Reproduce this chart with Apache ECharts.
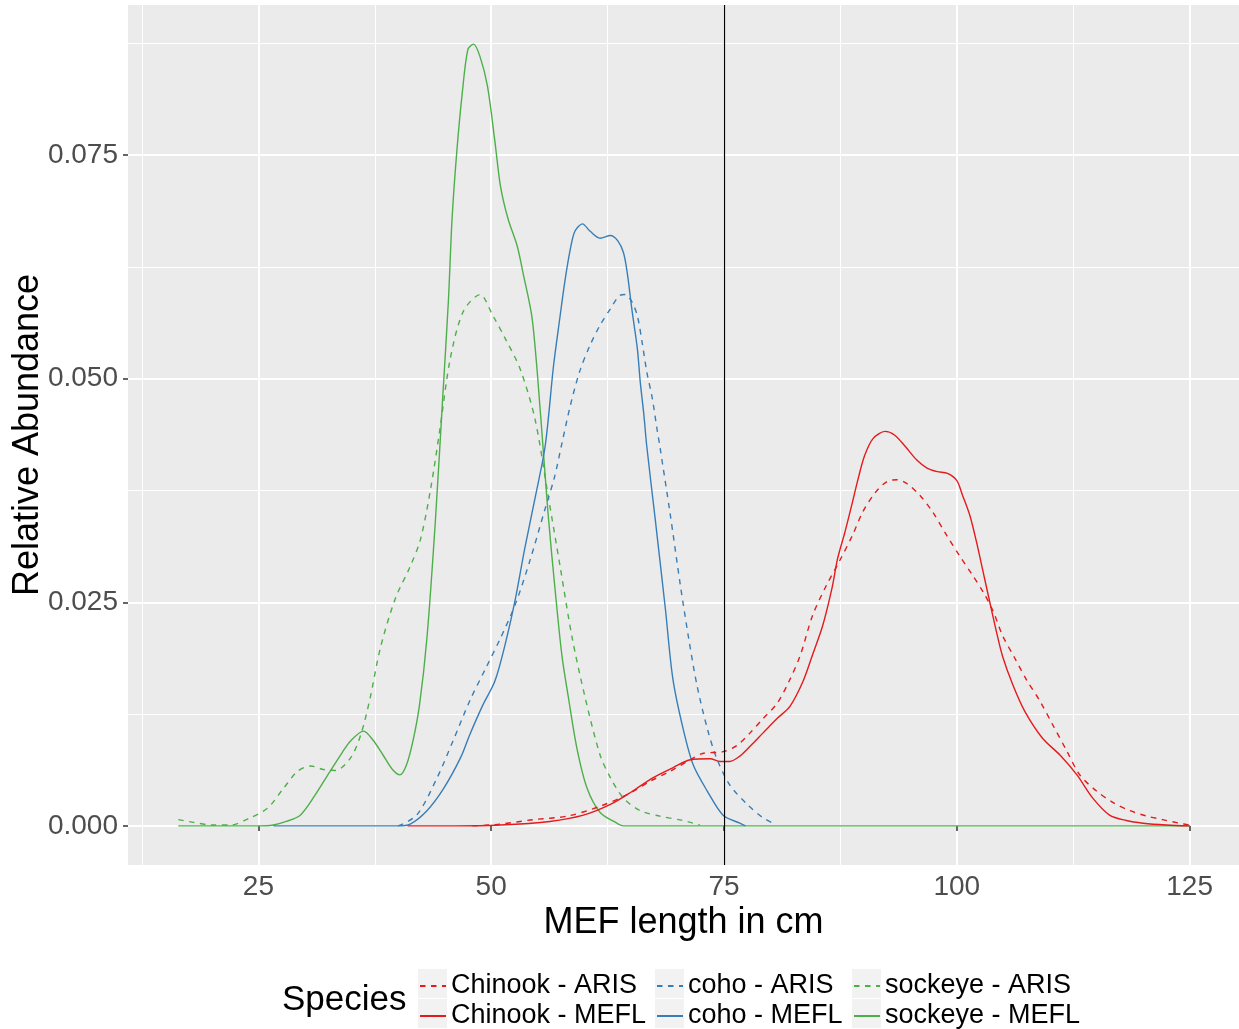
<!DOCTYPE html>
<html>
<head>
<meta charset="utf-8">
<script src="https://cdn.jsdelivr.net/npm/echarts@6/dist/echarts.min.js"></script>
<style>
  html, body { margin: 0; padding: 0; background: #fff; }
  #main { width: 1239px; height: 1029px; }
</style>
</head>
<body>
<div id="main"></div>
<script>
// tick labels
var xTicks = [25, 50, 75, 100, 125];
var xMinor = [12.5, 37.5, 62.5, 87.5, 112.5];
var yTicks = [0, 0.025, 0.05, 0.075];
var yMinor = [0.0125, 0.0375, 0.0625, 0.0875];
var cutLength = 75;

// density curves: [length, relative abundance]
var chinookARIS = [[48,0],[51,0.0002],[54.5,0.0007],[58.2,0.0011],[61.7,0.0022],[64.6,0.0035],[67.1,0.005],[69.2,0.0061],
  [71.4,0.0074],[72.7,0.0081],[74.9,0.0083],[76.4,0.009],[77.8,0.0104],[79.2,0.012],[80.7,0.0137],[82,0.0162],[83.2,0.0191],
  [84.5,0.0235],[86,0.0269],[87.4,0.0296],[88.8,0.0325],[89.9,0.0351],[91.2,0.0372],[92.5,0.0385],[93.6,0.0387],[94.6,0.0383],
  [96,0.037],[97.4,0.0351],[98.9,0.0325],[100.3,0.0302],[101.7,0.028],[102.8,0.0262],[103.9,0.024],[104.9,0.0213],[106.2,0.0188],
  [107.5,0.0163],[108.9,0.014],[110.3,0.0113],[111.8,0.0084],[113.2,0.0057],[115,0.0039],[116.8,0.0026],[118.6,0.0017],
  [120.4,0.0011],[122.1,0.0007],[123.9,0.0003],[125,0.0001]];
var chinookMEFL = [[41,0],[46,0],[51,0.0001],[56.3,0.0005],[59.9,0.0012],[62.8,0.0024],[65.2,0.0039],[67.4,0.0054],[69.5,0.0065],
  [71.4,0.0074],[73.5,0.0075],[74.6,0.0072],[75.6,0.0072],[76.7,0.0078],[77.8,0.0089],[79.2,0.0104],[80.7,0.012],[82.1,0.0134],
  [83.5,0.0162],[84.5,0.0191],[85.6,0.0224],[86.6,0.0266],[87.2,0.0299],[88,0.0329],[88.7,0.0358],[89.4,0.0388],[90.1,0.0414],
  [91,0.0433],[92.3,0.0441],[93.3,0.0437],[94.4,0.0425],[95.7,0.0409],[96.8,0.04],[97.9,0.0396],[99,0.0394],[100,0.0386],
  [100.6,0.037],[101.4,0.0347],[102.1,0.0318],[102.8,0.0285],[103.5,0.0252],[104.3,0.0215],[104.9,0.019],[106,0.0158],
  [107.3,0.0128],[109.2,0.0098],[111.1,0.0079],[112.9,0.0057],[114.6,0.0031],[116.4,0.0012],[118.2,0.0006],[120,0.0003],
  [122.5,0.0001],[125,0]];
var cohoARIS = [[40,0],[42,0.0012],[44.2,0.0054],[45.9,0.0095],[47.7,0.014],[49.4,0.0176],[51,0.021],[52.6,0.0248],[54.2,0.0298],
  [55.8,0.0355],[56.8,0.039],[57.6,0.0428],[58.5,0.047],[59.5,0.0508],[60.6,0.0537],[61.7,0.056],[62.8,0.0578],[63.8,0.0593],[64.4,0.0594],
  [65.1,0.0586],[65.7,0.057],[66.2,0.0541],[66.7,0.0508],[67.3,0.0478],[67.8,0.0444],[68.1,0.0425],[69.2,0.035],[70.3,0.027],
  [71.2,0.021],[72.1,0.0157],[73.2,0.0109],[74.2,0.0076],[75.6,0.0046],[77.5,0.0024],[79.2,0.0009],[80.5,0.0002]];
var cohoMEFL = [[26.6,0],[40,0],[41.3,0.0002],[43.1,0.0017],[44.9,0.0042],[46.7,0.0076],[47.7,0.0102],[49.1,0.0135],[50.4,0.0162],
  [51.5,0.0203],[52.6,0.0254],[53.6,0.031],[54.7,0.0366],[55.8,0.0425],[56.7,0.0515],[57.4,0.057],[57.9,0.0608],[58.5,0.0645],
  [59,0.0665],[59.8,0.0673],[60.6,0.0665],[61.7,0.0657],[62.8,0.066],[63.6,0.0654],[64.2,0.0641],[64.6,0.0619],[65.1,0.0578],
  [65.7,0.0533],[66,0.0497],[66.4,0.0459],[66.7,0.0425],[67.6,0.0344],[68.7,0.0243],[69.5,0.0165],[70.6,0.0109],[71.7,0.0068],
  [73.2,0.0039],[74.9,0.0012],[76.7,0.0003],[77.3,0]];
var sockeyeARIS = [[16.4,0.0007],[18,0.0004],[20,0.0001],[22,0.0001],[24.1,0.0009],[26,0.002],[27.7,0.0042],[29.2,0.0061],
  [30.6,0.0067],[32,0.0063],[33.3,0.0062],[34.9,0.0076],[36,0.0102],[37,0.0143],[38.1,0.0199],[39.7,0.0254],[41.3,0.029],
  [42.4,0.032],[43.5,0.0377],[44.5,0.0444],[45.6,0.0522],[47,0.0575],[48.8,0.0594],[50.2,0.057],[51.5,0.0545],[53.1,0.0511],
  [54.7,0.0455],[56.1,0.037],[57.4,0.029],[58.7,0.021],[60.1,0.0143],[61.7,0.0079],[62.8,0.0054],[64.2,0.0031],[66,0.0017],
  [68.1,0.0011],[70.6,0.0006],[72.4,0.0001]];
var sockeyeMEFL = [[16.4,0],[25,0],[26.6,0.0001],[28,0.0005],[29.5,0.0012],[31,0.0033],[32.7,0.0061],[34,0.0082],[34.9,0.0095],
  [36.3,0.0106],[37.3,0.0096],[38.4,0.0079],[39.4,0.0063],[40.2,0.0057],[40.9,0.0068],[41.6,0.0095],[42.3,0.0135],[43.1,0.021],
  [44,0.034],[44.8,0.048],[45.4,0.0586],[45.8,0.0679],[46.3,0.0753],[46.9,0.082],[47.5,0.0868],[48.1,0.0874],[48.8,0.086],[49.6,0.0827],
  [50.4,0.0765],[51,0.0715],[51.8,0.0679],[52.8,0.0648],[53.4,0.0619],[54.4,0.0567],[55.3,0.046],[56.1,0.035],[56.9,0.026],
  [57.6,0.019],[58.3,0.0143],[59.2,0.0087],[60.3,0.0042],[61.7,0.0015],[63.5,0.0003],[64.2,0],[125,0]];

var RED = '#E41A1C', BLUE = '#377EB8', GREEN = '#4DAF4A';
var FONT = '"Liberation Sans", Arial, sans-serif';

var myChart = echarts.init(document.getElementById('main'));

function curve(name, data, color, dashed) {
  return {
    name: name,
    type: 'line',
    data: data,
    smooth: 0.3,
    symbol: 'none',
    silent: true,
    emphasis: { disabled: true },
    lineStyle: { color: color, width: 1.4, type: dashed ? [5.5, 5.5] : 'solid' },
    itemStyle: { color: color }
  };
}

function legendCol(left, names) {
  return {
    orient: 'vertical',
    left: left + 1,
    top: 971,
    height: 90,
    padding: 0,
    itemWidth: 26,
    itemHeight: 29,
    itemGap: 0,
    selectedMode: false,
    data: names,
    // hide the round marker, keep the (dashed) line
    itemStyle: { color: 'transparent', borderColor: 'transparent', borderWidth: 0, opacity: 0 },
    textStyle: { fontSize: 27, color: '#000', fontFamily: FONT, lineHeight: 30 }
  };
}

// grey key boxes like ggplot legend keys
var keyCols = [418, 655, 852];
var keyBoxes = [];
keyCols.forEach(function (x) {
  [969, 999].forEach(function (y) {
    keyBoxes.push({ type: 'rect', left: x, top: y, z: -1, shape: { width: 29, height: 29 }, style: { fill: '#F2F2F2' } });
  });
});

var lastSeries = curve('Chinook - MEFL', chinookMEFL, RED, false);
lastSeries.markLine = {
  silent: true,
  symbol: 'none',
  label: { show: false },
  lineStyle: { color: '#000', width: 1.2, type: 'solid' },
  data: [{ xAxis: cutLength }]
};

var options = {
  backgroundColor: '#fff',
  animation: false,
  title: {
    text: 'Species',
    left: 282,
    top: 983,
    padding: 0,
    textStyle: { fontSize: 35, fontWeight: 'normal', color: '#000', fontFamily: FONT }
  },
  graphic: keyBoxes,
  legend: [
    legendCol(keyCols[0], ['Chinook - ARIS', 'Chinook - MEFL']),
    legendCol(keyCols[1], ['coho - ARIS', 'coho - MEFL']),
    legendCol(keyCols[2], ['sockeye - ARIS', 'sockeye - MEFL'])
  ],
  grid: {
    left: 128, top: 5, width: 1111, height: 860,
    outerBoundsMode: 'none',
    containLabel: false,
    show: true, backgroundColor: '#EBEBEB', borderWidth: 0
  },
  xAxis: [{
    type: 'value', min: 11, max: 130.3,
    name: 'MEF length in cm', nameLocation: 'middle', nameGap: 40,
    nameMoveOverlap: false,
    nameTextStyle: { fontSize: 36, color: '#000', fontFamily: FONT },
    axisLine: { show: false },
    axisTick: { show: true, length: 5, lineStyle: { color: '#333', width: 1.5 }, customValues: xTicks },
    axisLabel: { customValues: xTicks, margin: 8, fontSize: 28, color: '#4D4D4D', fontFamily: FONT },
    splitLine: { show: true, lineStyle: { color: '#fff', width: 2 } }
  }, {
    type: 'value', min: 11, max: 130.3, position: 'bottom',
    axisLine: { show: false },
    axisTick: { show: false, customValues: xMinor },
    axisLabel: { show: false },
    splitLine: { show: true, lineStyle: { color: '#fff', width: 1 } }
  }],
  yAxis: [{
    type: 'value', min: -0.00437, max: 0.09177,
    name: 'Relative Abundance', nameLocation: 'middle', nameGap: 82,
    nameMoveOverlap: false,
    nameTextStyle: { fontSize: 36, color: '#000', fontFamily: FONT },
    axisLine: { show: false },
    axisTick: { show: true, length: 5, lineStyle: { color: '#333', width: 1.5 }, customValues: yTicks },
    axisLabel: { customValues: yTicks, margin: 10, fontSize: 28, color: '#4D4D4D', fontFamily: FONT,
      formatter: function (v) { return v.toFixed(3); } },
    splitLine: { show: true, lineStyle: { color: '#fff', width: 2 } }
  }, {
    type: 'value', min: -0.00437, max: 0.09177, position: 'left',
    axisLine: { show: false },
    axisTick: { show: false, customValues: yMinor },
    axisLabel: { show: false },
    splitLine: { show: true, lineStyle: { color: '#fff', width: 1 } }
  }],
  series: [
    curve('sockeye - ARIS', sockeyeARIS, GREEN, true),
    curve('sockeye - MEFL', sockeyeMEFL, GREEN, false),
    curve('coho - ARIS', cohoARIS, BLUE, true),
    curve('coho - MEFL', cohoMEFL, BLUE, false),
    curve('Chinook - ARIS', chinookARIS, RED, true),
    lastSeries
  ]
};

myChart.setOption(options, true);
</script>
</body>
</html>
